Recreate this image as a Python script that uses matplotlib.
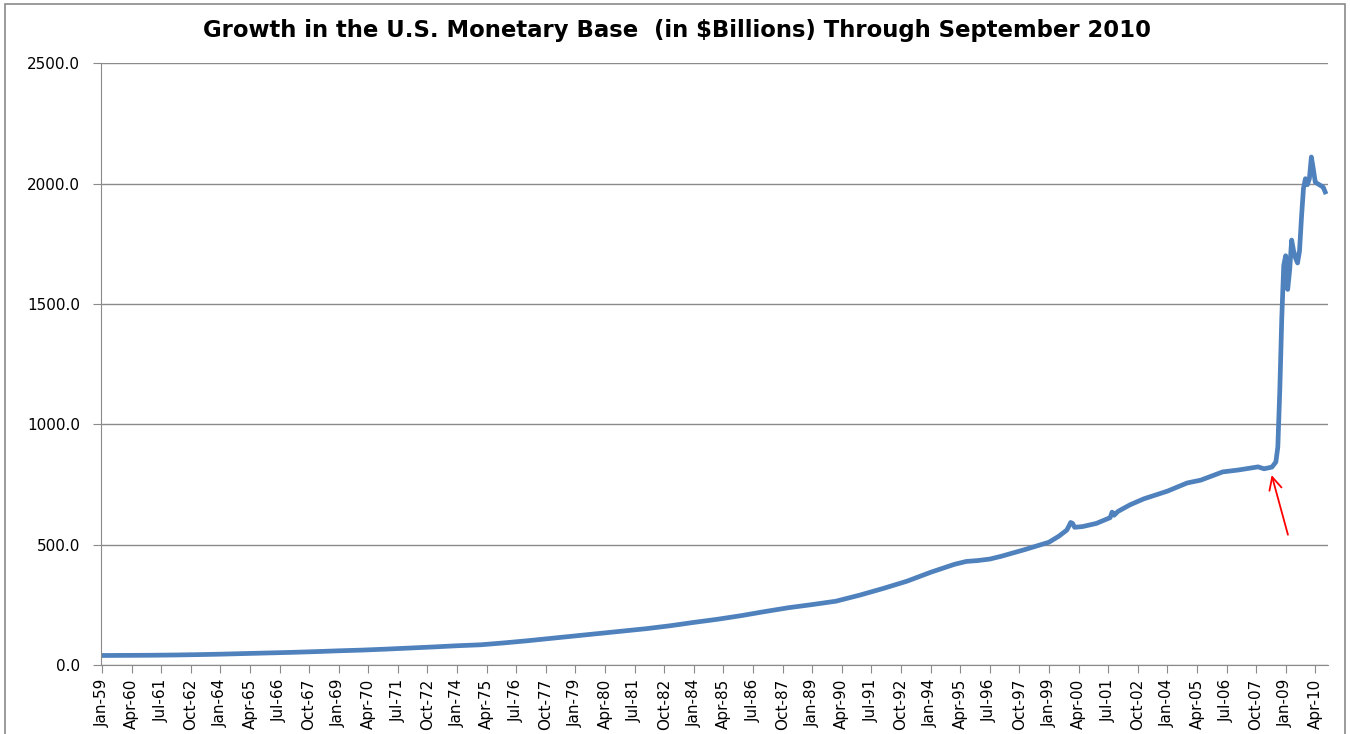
import numpy as np
import matplotlib
matplotlib.use('Agg')
import matplotlib.pyplot as plt
from matplotlib.patches import Rectangle

# Monetary base, $ billions
dates = [
    '1959-01', '1960-01', '1961-01', '1962-01', '1963-01', '1964-01', '1965-01',
    '1966-01', '1967-01', '1968-01', '1969-01', '1970-01', '1971-01', '1972-01',
    '1973-01', '1974-01', '1975-01', '1976-01', '1977-01', '1978-01', '1979-01',
    '1980-01', '1981-01', '1982-01', '1983-01', '1984-01', '1985-01', '1986-01',
    '1987-01', '1988-01', '1989-01', '1990-01', '1991-01', '1992-01', '1993-01',
    '1994-01', '1995-01', '1995-07', '1996-01', '1996-07', '1997-01', '1998-01',
    '1999-01', '1999-06', '1999-10', '1999-11', '1999-12', '2000-01', '2000-02',
    '2000-06', '2001-01', '2001-08', '2001-09', '2001-10', '2001-12', '2002-06',
    '2003-01', '2004-01', '2004-11', '2005-06', '2006-05', '2007-01', '2007-11',
    '2008-02', '2008-06', '2008-08', '2008-09', '2008-10', '2008-11', '2008-12',
    '2009-01', '2009-02', '2009-03', '2009-04', '2009-05', '2009-06', '2009-07',
    '2009-08', '2009-09', '2009-10', '2009-11', '2009-12', '2010-01', '2010-02',
    '2010-03', '2010-04', '2010-05', '2010-06', '2010-07', '2010-08', '2010-09',
]
base = [
    39.5, 40.0, 40.5, 41.5, 43.0, 45.0, 47.5,
    50.0, 52.5, 55.5, 59.0, 62.0, 66.0, 70.5,
    75.0, 80.0, 84.0, 92.0, 101.0, 111.0, 121.0,
    131.0, 141.0, 151.0, 163.0, 177.0, 190.0, 205.0,
    222.0, 238.0, 251.0, 265.0, 290.0, 318.0, 348.0,
    385.0, 418.0, 430.0, 434.0, 440.0, 452.0, 480.0,
    510.0, 535.0, 560.0, 575.0, 592.0, 588.0, 572.0,
    575.0, 588.0, 612.0, 635.0, 622.0, 638.0, 665.0,
    690.0, 722.0, 756.0, 768.0, 802.0, 810.0, 823.0,
    815.0, 822.0, 843.0, 905.0, 1140.0, 1440.0, 1660.0,
    1700.0, 1560.0, 1640.0, 1765.0, 1720.0, 1690.0, 1670.0,
    1720.0, 1860.0, 1980.0, 2020.0, 1995.0, 2020.0, 2110.0,
    2060.0, 2005.0, 2000.0, 1995.0, 1990.0, 1985.0, 1965.0,
]

tick_labels = [
    'Jan-59', 'Apr-60', 'Jul-61', 'Oct-62', 'Jan-64', 'Apr-65', 'Jul-66',
    'Oct-67', 'Jan-69', 'Apr-70', 'Jul-71', 'Oct-72', 'Jan-74', 'Apr-75',
    'Jul-76', 'Oct-77', 'Jan-79', 'Apr-80', 'Jul-81', 'Oct-82', 'Jan-84',
    'Apr-85', 'Jul-86', 'Oct-87', 'Jan-89', 'Apr-90', 'Jul-91', 'Oct-92',
    'Jan-94', 'Apr-95', 'Jul-96', 'Oct-97', 'Jan-99', 'Apr-00', 'Jul-01',
    'Oct-02', 'Jan-04', 'Apr-05', 'Jul-06', 'Oct-07', 'Jan-09', 'Apr-10',
]

MONTHS = ['Jan', 'Feb', 'Mar', 'Apr', 'May', 'Jun',
          'Jul', 'Aug', 'Sep', 'Oct', 'Nov', 'Dec']


def month_index(year, month):
    """Months since Jan 1959 (category position on the x axis)."""
    return (year - 1959) * 12 + (month - 1)


x = [month_index(int(d[:4]), int(d[5:])) for d in dates]
tick_pos = []
for t in tick_labels:
    mon, yy = t.split('-')
    yr = 1900 + int(yy) if int(yy) >= 50 else 2000 + int(yy)
    tick_pos.append(month_index(yr, MONTHS.index(mon) + 1))

fig = plt.figure(figsize=(13.5, 7.34), dpi=100)
ax = fig.add_axes([0.0748, 0.094, 0.909, 0.820])

ax.plot(x, base, color='#4F81BD', linewidth=3.4, solid_joinstyle='round')

ax.set_xticks(tick_pos)
ax.set_xticklabels(tick_labels, rotation=90)
ax.set_yticks(np.arange(0, 2501, 500))
ax.set_yticklabels([f'{v:.1f}' for v in np.arange(0, 2501, 500)])
ax.set_xlim(-0.5, 621.5)
ax.set_ylim(0, 2500)

ax.grid(axis='y', color='#8a8a8a', linewidth=1)
ax.set_axisbelow(True)
for side in ['top', 'right']:
    ax.spines[side].set_visible(False)
for side in ['left', 'bottom']:
    ax.spines[side].set_color('#8a8a8a')
ax.tick_params(axis='both', colors='#8a8a8a', length=6, labelsize=11,
               labelcolor='black')
ax.tick_params(axis='y', pad=9)
ax.tick_params(axis='x', pad=4)

# red arrow pointing at the Sept 2008 take-off
ax.annotate('', xy=(592.5, 800), xytext=(601.5, 530),
            arrowprops=dict(arrowstyle='->, head_length=0.9, head_width=0.45',
                            color='red', lw=1.3))

fig.text(0.5015, 0.959, 'Growth in the U.S. Monetary Base  (in $Billions) Through September 2010',
         ha='center', va='center', fontsize=16.4, fontweight='bold',
         family='DejaVu Sans')

fig.patches.append(Rectangle((5 / 1350, -0.05), 1340 / 1350, 1.05 - 4 / 734,
                             transform=fig.transFigure, fill=False,
                             edgecolor='#8a8a8a', linewidth=1.2))

fig.savefig('out.png', dpi=100)
